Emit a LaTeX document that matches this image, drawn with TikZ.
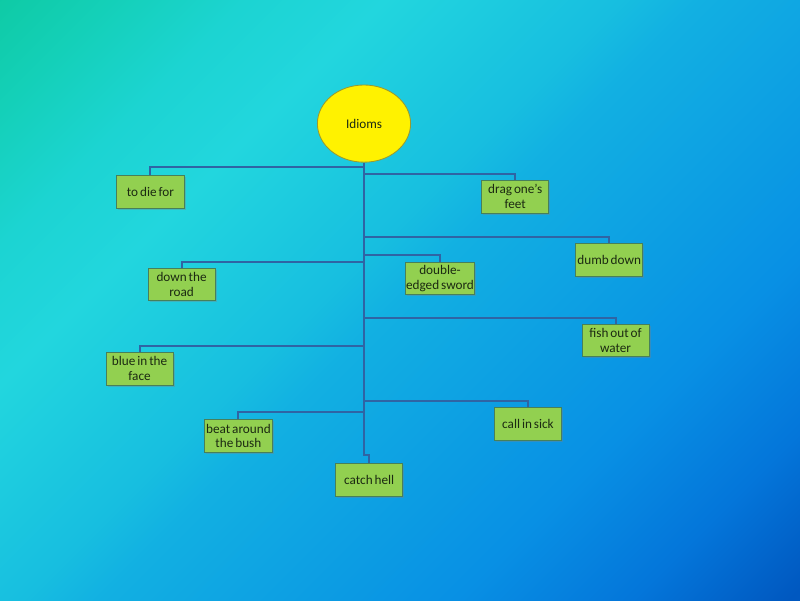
\documentclass[tikz,border=0pt]{standalone}
\usepackage{fontspec}
\setmainfont{Carlito}[WordSpace=0.65]
\usepackage{xcolor}
\usepackage{tikz}
\usetikzlibrary{shapes.geometric,shadows}

\definecolor{leafFill}{HTML}{92D050}
\definecolor{leafLine}{HTML}{47805A}
\definecolor{linkBlue}{HTML}{2F64A4}
\definecolor{rootLine}{HTML}{9A9A30}
\definecolor{inkDark}{HTML}{1C2A12}

% Background colours, corner to corner
\definecolor{bgA}{HTML}{0058C0}
\definecolor{bgB}{HTML}{0476DA}
\definecolor{bgC}{HTML}{0890E4}
\definecolor{bgD}{HTML}{12B0E2}
\definecolor{bgE}{HTML}{17BEE0}
\definecolor{bgF}{HTML}{22D6DE}
\definecolor{bgG}{HTML}{1CD4D2}
\definecolor{bgH}{HTML}{14D0B8}
\definecolor{bgI}{HTML}{0ECAA4}

\pgfdeclareverticalshading{skyshade}{100bp}{color(0bp)=(bgA); color(15bp)=(bgA); color(23bp)=(bgB); color(32bp)=(bgC); color(50bp)=(bgD); color(54bp)=(bgE); color(66bp)=(bgF); color(73bp)=(bgG); color(80bp)=(bgH); color(86bp)=(bgI); color(100bp)=(bgI)}

\begin{document}
\begin{tikzpicture}[
  font=\fontsize{9.4}{10.6}\selectfont,
  leaf/.style={draw=leafLine, fill=leafFill, semithick, text=inkDark,
    minimum width=1.68cm, minimum height=0.82cm,
    align=center, inner xsep=0.5pt, inner ysep=1pt,
    drop shadow={opacity=0.35, shadow xshift=0.04cm, shadow yshift=-0.04cm}},
  link/.style={draw=linkBlue, line width=1.4pt}
]

\useasboundingbox (0, 0) rectangle (20, 15);

% Background
\shade[shading=skyshade, shading angle=45] (0, 0) rectangle (20, 15);

% ==================== ROOT ====================
\node[ellipse, draw=rootLine, fill=yellow, semithick, text=inkDark,
  minimum width=2.33cm, minimum height=1.93cm] (idioms) at (9.1, 11.91) {Idioms};

% ==================== LEAVES ====================
\node[leaf] (dieFor)      at (3.76, 10.20)  {to die for};
\node[leaf] (dragFeet)    at (12.88, 10.08) {drag one’s\\feet};
\node[leaf] (dumbDown)    at (15.23, 8.51)  {dumb down};
\node[leaf] (doubleEdged) at (11.00, 8.04)  {double-\\edged sword};
\node[leaf] (downRoad)    at (4.54, 7.89)   {down the\\road};
\node[leaf] (fishWater)   at (15.39, 6.49)  {fish out of\\water};
\node[leaf] (blueFace)    at (3.49, 5.78)   {blue in the\\face};
\node[leaf] (callSick)    at (13.20, 4.41)  {call in sick};
\node[leaf] (beatBush)    at (5.96, 4.10)   {beat around\\the bush};
\node[leaf] (catchHell)   at (9.23, 3.01)   {catch hell};

% Junctions on the trunk
\coordinate (jDie)    at (9.1, 10.83);
\coordinate (jDrag)   at (9.1, 10.65);
\coordinate (jDumb)   at (9.1, 9.08);
\coordinate (jDouble) at (9.1, 8.63);
\coordinate (jRoad)   at (9.1, 8.45);
\coordinate (jFish)   at (9.1, 7.05);
\coordinate (jBlue)   at (9.1, 6.35);
\coordinate (jSick)   at (9.1, 4.98);
\coordinate (jBeat)   at (9.1, 4.70);
\coordinate (jEnd)    at (9.1, 3.63);

% ==================== CONNECTORS ====================
\draw[link] (idioms.south) -- (jEnd) -| (catchHell.north);
\draw[link] (jDie)    -| (dieFor.north);
\draw[link] (jDrag)   -| (dragFeet.north);
\draw[link] (jDumb)   -| (dumbDown.north);
\draw[link] (jDouble) -| (doubleEdged.north);
\draw[link] (jRoad)   -| (downRoad.north);
\draw[link] (jFish)   -| (fishWater.north);
\draw[link] (jBlue)   -| (blueFace.north);
\draw[link] (jSick)   -| (callSick.north);
\draw[link] (jBeat)   -| (beatBush.north);

\end{tikzpicture}
\end{document}
